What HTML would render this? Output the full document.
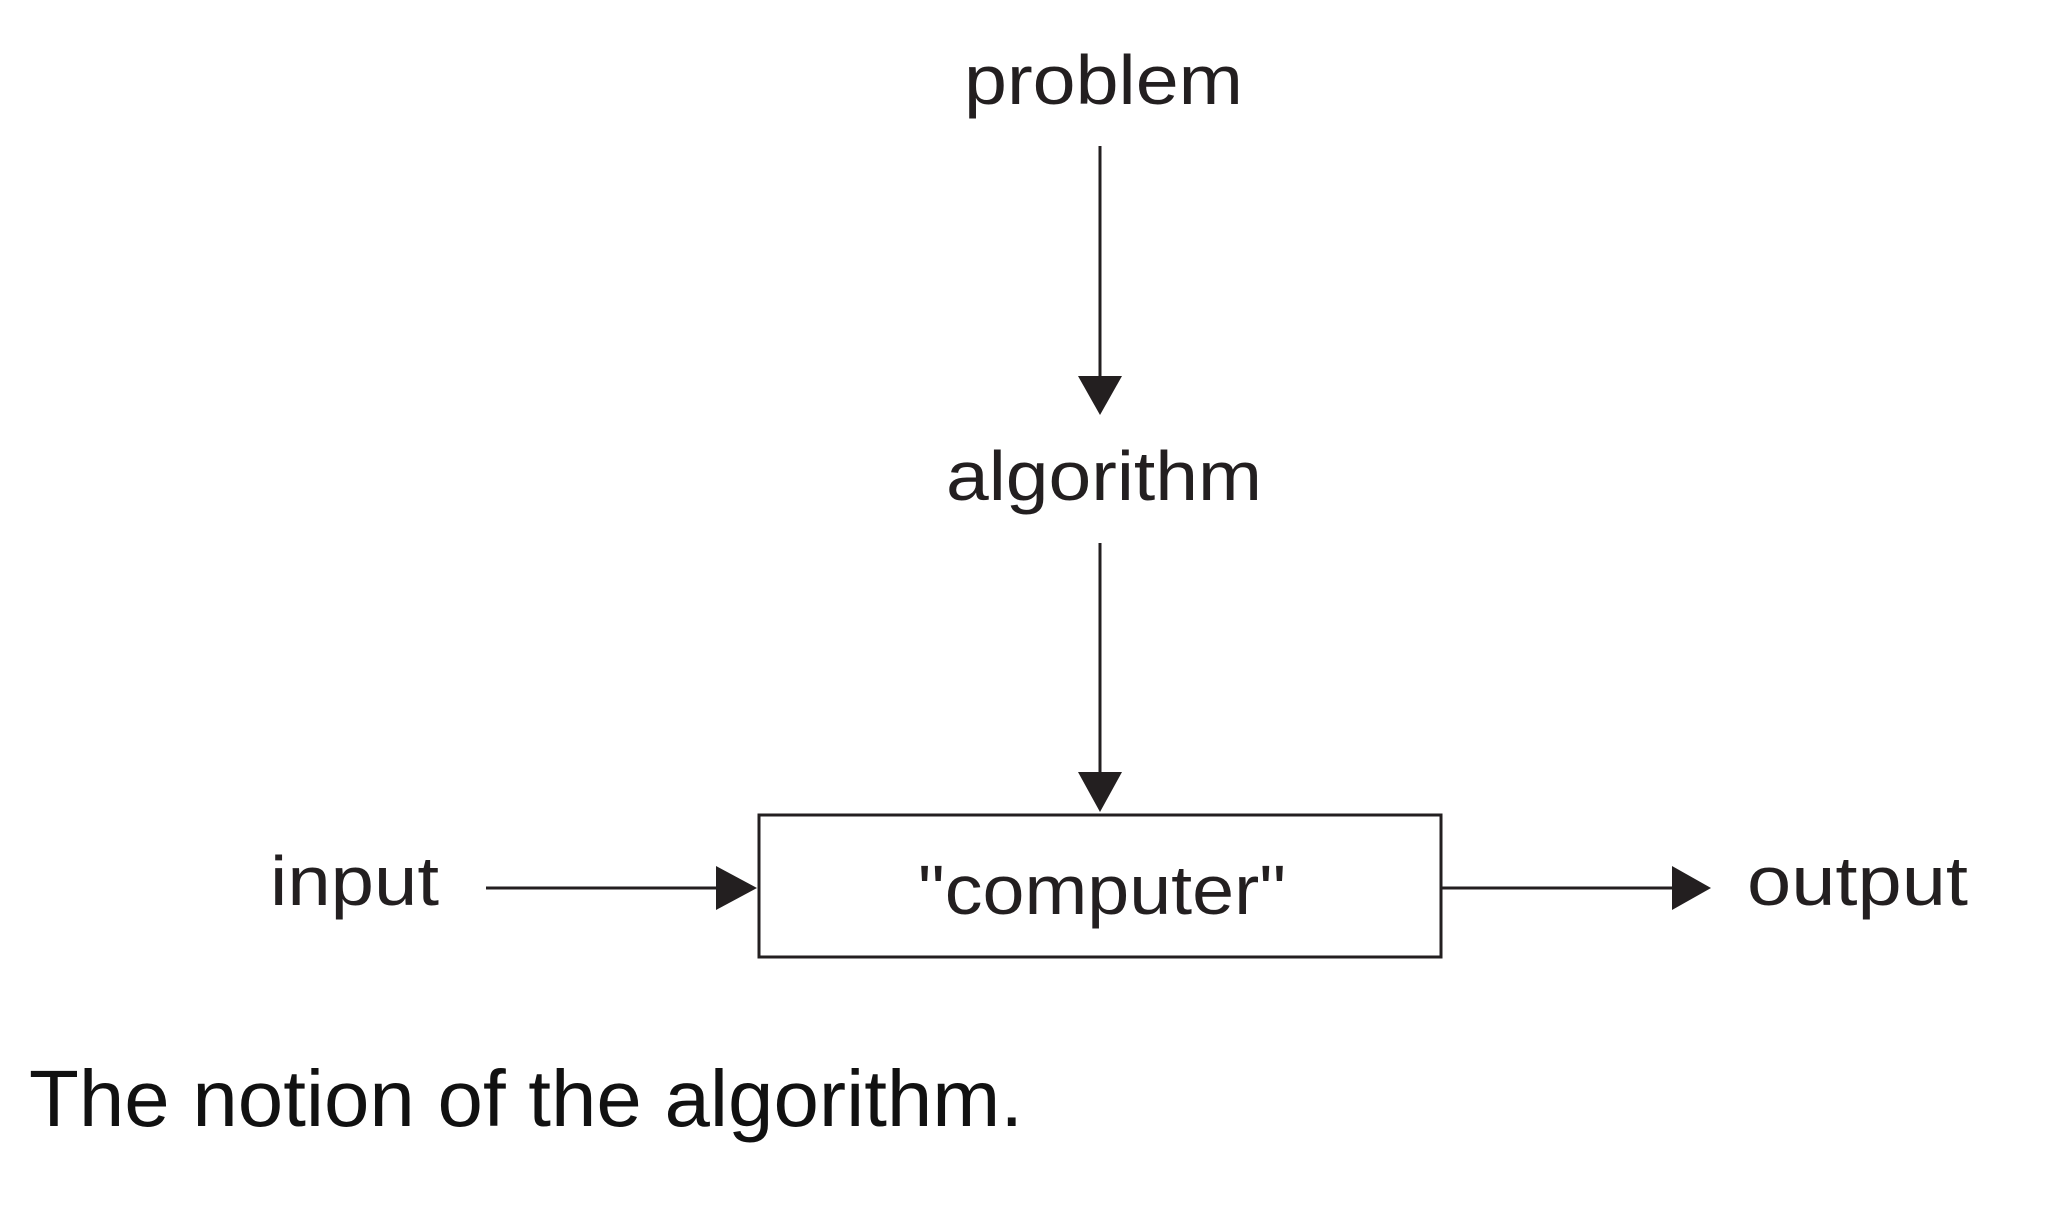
<!DOCTYPE html>
<html><head><meta charset="utf-8"><style>html,body{margin:0;padding:0;background:#fff;}svg{display:block}</style></head>
<body>
<svg width="2048" height="1229" viewBox="0 0 2048 1229" xmlns="http://www.w3.org/2000/svg" font-family="Liberation Sans, sans-serif" fill="#231f20">
<rect width="2048" height="1229" fill="#fff"/>
<text x="964" y="104" font-size="70" textLength="279" lengthAdjust="spacingAndGlyphs">problem</text>
<line x1="1100" y1="146" x2="1100" y2="380" stroke="#231f20" stroke-width="3"/>
<polygon points="1078,376 1122,376 1100,415" />
<text x="946" y="500" font-size="70" textLength="316" lengthAdjust="spacingAndGlyphs">algorithm</text>
<line x1="1100" y1="543" x2="1100" y2="776" stroke="#231f20" stroke-width="3"/>
<polygon points="1078,772 1122,772 1100,812" />
<rect x="759" y="815" width="682" height="142" fill="none" stroke="#231f20" stroke-width="3"/>
<text x="918" y="914" font-size="70" textLength="368" lengthAdjust="spacingAndGlyphs">"computer"</text>
<text x="270" y="905" font-size="70" textLength="169" lengthAdjust="spacingAndGlyphs">input</text>
<line x1="486" y1="888" x2="720" y2="888" stroke="#231f20" stroke-width="3"/>
<polygon points="716,866 716,910 757,888" />
<line x1="1441" y1="888" x2="1676" y2="888" stroke="#231f20" stroke-width="3"/>
<polygon points="1672,866 1672,910 1711,888" />
<text x="1747" y="905" font-size="70" textLength="221" lengthAdjust="spacingAndGlyphs">output</text>
<text x="29" y="1126" font-size="80" textLength="994" lengthAdjust="spacingAndGlyphs" fill="#111">The notion of the algorithm.</text>
</svg>
</body></html>
